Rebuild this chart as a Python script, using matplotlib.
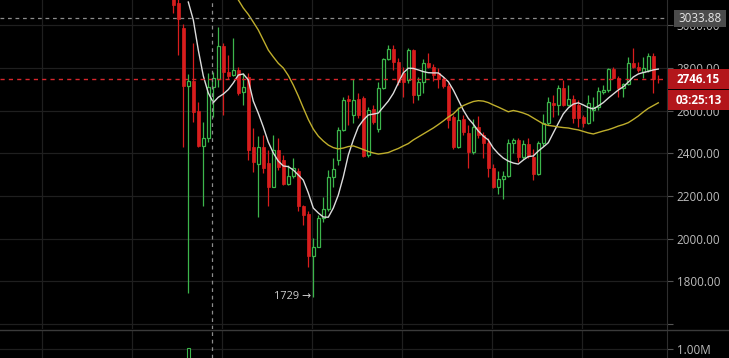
import matplotlib
matplotlib.use("Agg")
import matplotlib.pyplot as plt
from matplotlib.patches import Rectangle

# candle data, one entry per candle
opens = [3180, 3103, 2986, 2717, 2739, 2599, 2436, 2471, 2710, 2748,
         2903, 2783, 2767, 2791, 2686, 2756, 2430, 2349, 2431, 2355,
         2244, 2416, 2369, 2255, 2294, 2318, 2154, 2116, 1921, 1963,
         2096, 2140, 2291, 2369, 2510, 2655, 2580, 2655, 2658, 2393,
         2608, 2513, 2705, 2841, 2888, 2830, 2778, 2744, 2884, 2674,
         2736, 2825, 2806, 2775, 2747, 2716, 2572, 2428, 2560, 2497,
         2408, 2522, 2486, 2450, 2330, 2244, 2279, 2294, 2450, 2463,
         2382, 2444, 2385, 2303, 2447, 2544, 2638, 2627, 2705, 2627,
         2653, 2627, 2569, 2541, 2603, 2616, 2689, 2697, 2794, 2755,
         2705, 2724, 2822, 2806, 2783, 2791, 2856, 2748]
highs = [3230, 3140, 3006, 2772, 2919, 2642, 2548, 2778, 2780, 2991,
         2916, 2861, 2939, 2806, 2778, 2777, 2519, 2483, 2486, 2416,
         2486, 2470, 2392, 2346, 2380, 2330, 2160, 2130, 2002, 2111,
         2197, 2322, 2377, 2525, 2666, 2674, 2747, 2682, 2670, 2615,
         2628, 2736, 2845, 2908, 2908, 2845, 2806, 2892, 2890, 2759,
         2841, 2869, 2819, 2799, 2760, 2728, 2580, 2619, 2580, 2531,
         2560, 2575, 2500, 2470, 2350, 2319, 2319, 2466, 2474, 2474,
         2463, 2472, 2422, 2459, 2585, 2666, 2674, 2720, 2744, 2720,
         2674, 2650, 2580, 2674, 2666, 2712, 2720, 2800, 2805, 2762,
         2732, 2850, 2892, 2829, 2853, 2869, 2869, 2767]
lows = [3058, 2861, 2431, 1745, 2548, 2429, 2155, 2455, 2572, 2710,
        2580, 2748, 2763, 2675, 2627, 2369, 2313, 2102, 2307, 2154,
        2244, 2320, 2250, 2250, 2287, 2130, 2065, 1869, 1729, 1963,
        2080, 2130, 2244, 2346, 2505, 2533, 2541, 2564, 2382, 2384,
        2536, 2502, 2700, 2836, 2790, 2720, 2666, 2728, 2635, 2650,
        2681, 2798, 2740, 2705, 2705, 2518, 2419, 2424, 2486, 2330,
        2397, 2471, 2377, 2291, 2236, 2210, 2185, 2288, 2400, 2361,
        2372, 2380, 2275, 2298, 2436, 2533, 2572, 2580, 2622, 2620,
        2541, 2525, 2525, 2536, 2553, 2603, 2680, 2689, 2747, 2666,
        2666, 2720, 2800, 2780, 2752, 2781, 2684, 2728]
closes = [3095, 3028, 2717, 2739, 2595, 2436, 2471, 2710, 2755, 2903,
          2783, 2763, 2791, 2684, 2710, 2416, 2360, 2431, 2330, 2243,
          2416, 2338, 2255, 2294, 2330, 2154, 2111, 1921, 1963, 2096,
          2140, 2288, 2326, 2510, 2650, 2645, 2650, 2580, 2388, 2603,
          2549, 2705, 2841, 2888, 2830, 2736, 2736, 2885, 2674, 2736,
          2825, 2806, 2767, 2747, 2716, 2556, 2431, 2556, 2502, 2408,
          2522, 2486, 2450, 2330, 2244, 2279, 2294, 2450, 2463, 2382,
          2444, 2388, 2303, 2447, 2544, 2642, 2627, 2705, 2627, 2653,
          2564, 2564, 2541, 2638, 2616, 2692, 2697, 2794, 2755, 2705,
          2724, 2822, 2806, 2791, 2798, 2856, 2747, 2746.15]

# short moving average (white), starts at candle 3
ma_fast = [3109, 3025, 2884, 2763, 2683, 2638, 2663, 2678, 2699, 2730,
           2767, 2772, 2744, 2645, 2588, 2524, 2453, 2402, 2364, 2341,
           2338, 2322, 2299, 2275, 2215, 2144, 2121, 2102, 2101, 2144,
           2205, 2290, 2392, 2463, 2524, 2556, 2580, 2584, 2589, 2617,
           2645, 2681, 2730, 2777, 2799, 2798, 2791, 2783, 2778, 2777,
           2777, 2758, 2736, 2697, 2650, 2603, 2564, 2537, 2505, 2481,
           2463, 2425, 2399, 2378, 2364, 2355, 2350, 2369, 2385, 2388,
           2411, 2430, 2450, 2496, 2541, 2585, 2613, 2631, 2637, 2627,
           2615, 2608, 2622, 2638, 2659, 2678, 2697, 2712, 2734, 2758,
           2772, 2779, 2784, 2791, 2795]
fast_start = 3

# long moving average (yellow), starts at candle 12
ma_slow = [3147, 3119, 3081, 3051, 3015, 2978, 2931, 2884, 2852, 2822,
           2800, 2765, 2720, 2669, 2613, 2559, 2514, 2481, 2458, 2439,
           2427, 2421, 2425, 2432, 2435, 2427, 2418, 2409, 2402, 2397,
           2400, 2404, 2414, 2423, 2435, 2446, 2463, 2477, 2491, 2505,
           2519, 2535, 2552, 2570, 2585, 2608, 2624, 2634, 2643, 2647,
           2645, 2638, 2627, 2617, 2606, 2595, 2601, 2596, 2589, 2580,
           2566, 2552, 2538, 2531, 2528, 2524, 2521, 2519, 2514, 2510,
           2503, 2496, 2491, 2498, 2505, 2511, 2519, 2528, 2535, 2544,
           2559, 2575, 2594, 2611, 2624, 2637]
slow_start = 12

# only volume bar tall enough to show in the cut-off volume pane
vol_idx = [3]
vol_val = [1.02e6]

price_ticks = [1600, 1800, 2000, 2200, 2400, 2600, 2800, 3000]
last_price = 2746.15
cross_price = 3033.88
cross_candle = 7.74
low_candle = 28
low_label = "1729"
timer_text = "03:25:13"

UP = "#3cb54b"
DOWN = "#d81d1d"
BG = "#000000"
GRID = "#1f1f1f"
TXT = "#bcbcbc"
FONT = ["Open Sans", "DejaVu Sans"]

W, H = 729, 358
fig = plt.figure(figsize=(W / 100, H / 100), dpi=100, facecolor=BG)

ax = fig.add_axes([0, 29 / H, 667 / W, 329 / H], facecolor=BG)
axv = fig.add_axes([0, 0, 667 / W, 28 / H], facecolor=BG)

xlim = (-34.66, 98.74)
ax.set_xlim(*xlim)
ax.set_ylim(1577.5, 3118.5)

# wicks then bodies
n = len(closes)
for i in range(n):
    up = closes[i] >= opens[i]
    col = UP if up else DOWN
    ax.plot([i, i], [lows[i], highs[i]], color=col, lw=0.9, zorder=2,
            solid_capstyle="butt")
    lo = min(opens[i], closes[i])
    h = max(abs(closes[i] - opens[i]), 3)
    if up:
        ax.bar(i, h, bottom=lo, width=0.62, facecolor=BG, edgecolor=col,
               lw=0.9, zorder=3)
    else:
        ax.bar(i, h, bottom=lo, width=0.72, facecolor=col, edgecolor=col,
               lw=0.5, zorder=3)

ax.plot(range(fast_start, fast_start + len(ma_fast)), ma_fast,
        color="#dcdcdc", lw=1.0, zorder=4)
ax.plot(range(slow_start, slow_start + len(ma_slow)), ma_slow,
        color="#bfae2c", lw=1.0, zorder=4)

# grid
xgrid = [-26.26, -8.26, 9.74, 27.74, 45.74, 63.74, 81.74]
for a in (ax, axv):
    a.set_xticks(xgrid)
    a.tick_params(axis="x", length=0, labelbottom=False)
    a.grid(True, color=GRID, lw=0.9)
    a.set_axisbelow(True)
    for s in ("top", "left", "bottom"):
        a.spines[s].set_visible(False)
    a.spines["right"].set_color("#2e2e2e")
    a.yaxis.tick_right()

ax.set_yticks(price_ticks)
ax.set_yticklabels([""] + ["%.2f" % p for p in price_ticks[1:]])
ax.tick_params(axis="y", length=4, width=0.8, color="#555555", pad=3,
               labelsize=8.4, labelcolor=TXT)
for t in ax.get_yticklabels():
    t.set_fontfamily(FONT)

# last price line and crosshair
ax.axhline(last_price, color="#d8262c", lw=1.0, ls=(0, (3, 3)), zorder=5)
ax.axhline(cross_price, color="#8c8c8c", lw=0.9, ls=(0, (3, 3)), zorder=5)
ax.axvline(cross_candle, color="#8c8c8c", lw=0.9, ls=(0, (3, 3)), zorder=5)
axv.axvline(cross_candle, color="#8c8c8c", lw=0.9, ls=(0, (3, 3)), zorder=5)

ax.annotate(low_label + " \u2192", xy=(low_candle - 0.5, lows[low_candle]),
            ha="right", va="center", color="#cfcfcf", fontsize=7.8,
            fontfamily=FONT, zorder=6)

# volume pane
axv.set_xlim(*xlim)
axv.set_ylim(0.8e6, 1.4e6)
axv.bar(vol_idx, vol_val, width=0.5, facecolor=BG, edgecolor=UP, lw=0.8)
axv.set_yticks([1.0e6])
axv.set_yticklabels(["1.00M"])
axv.tick_params(axis="y", length=4, width=0.8, color="#555555", pad=3,
                labelsize=8.4, labelcolor=TXT)
for t in axv.get_yticklabels():
    t.set_fontfamily(FONT)
fig.add_artist(plt.Line2D([0, 1], [1 - 329.5 / H] * 2, color="#3a3a3a",
                          lw=1.0, transform=fig.transFigure))


def y_px(price):
    lo, hi = ax.get_ylim()
    return 329 * (hi - price) / (hi - lo)


def label_box(price_y, text, face, color, weight="normal", x0=668, x1=729,
              h=20):
    fig.add_artist(Rectangle((x0 / W, 1 - (price_y + h / 2) / H),
                             (x1 - x0) / W, h / H, transform=fig.transFigure,
                             facecolor=face, edgecolor="none", zorder=10))
    fig.text((x0 + x1) / 2 / W, 1 - price_y / H, text, ha="center",
             va="center", color=color, fontsize=8.4, fontweight=weight,
             fontfamily=FONT, zorder=11)


label_box(y_px(cross_price), "%.2f" % cross_price, "#4b4b4b", "#e6e6e6",
          x0=674, x1=726, h=17)
yl = y_px(last_price)
label_box(yl, "%.2f" % last_price, "#b3161b", "white", weight="bold")
label_box(yl + 21, timer_text, "#b3161b", "white", weight="bold")

fig.savefig("out.png", dpi=100, facecolor=BG)
